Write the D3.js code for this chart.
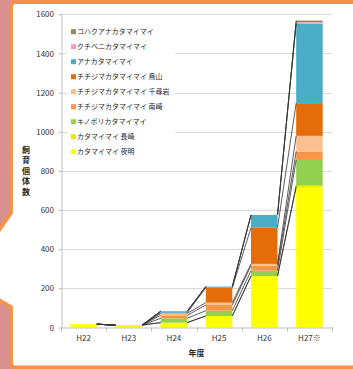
<!DOCTYPE html>
<html>
<head>
<meta charset="utf-8">
<script src="https://cdn.jsdelivr.net/npm/d3@7/dist/d3.min.js"></script>
<style>
  html, body { margin: 0; padding: 0; background: #fff; }
  svg { display: block; }
  text { font-family: "Noto Sans CJK JP", "Liberation Sans", sans-serif; }
</style>
</head>
<body>
<svg id="chart" width="353" height="369"></svg>
<script>
// Fiscal years (x categories)
const years = ["H22", "H23", "H24", "H25", "H26", "H27※"];

// Series, bottom of the stack first
const seriesNames = [
  "カタマイマイ 夜明",
  "カタマイマイ 長崎",
  "キノボリカタマイマイ",
  "チチジマカタマイマイ 南崎",
  "チチジマカタマイマイ 千尋岩",
  "チチジマカタマイマイ 鳥山",
  "アナカタマイマイ",
  "クチベニカタマイマイ",
  "コハクアナカタマイマイ"
];
const seriesColors = [
  "#FFFF00", "#F2E300", "#92D050", "#F79646", "#FAC090",
  "#E46C0A", "#4BACC6", "#FF99CC", "#948A54"
];

// Bred individuals per series, one value per year
const yoake      = [17, 12, 25, 59, 263, 715];
const nagasaki   = [0, 0, 0, 0, 0, 10];
const kinobori   = [0, 0, 22, 27, 27, 131];
const minamizaki = [0, 0, 15, 29, 26, 43];
const chihiroiwa = [0, 0, 10, 12, 9, 80];
const torishima  = [0, 0, 3, 76, 185, 167];
const anaka      = [0, 0, 8, 6, 65, 406];
const kuchibeni  = [0, 0, 0, 0, 0, 8];
const kohaku     = [0, 0, 0, 0, 0, 8];

const yTicks = [0, 200, 400, 600, 800, 1000, 1200, 1400, 1600];
const yTitle = "飼育個体数";
const xTitle = "年度";

const seriesValues = [yoake, nagasaki, kinobori, minamizaki, chihiroiwa,
                      torishima, anaka, kuchibeni, kohaku];

const rows = years.map((yr, i) => {
  const r = { year: yr };
  seriesNames.forEach((n, s) => { r[n] = seriesValues[s][i]; });
  return r;
});

const svg = d3.select("#chart");

// Page backdrop and the bordered callout panel
svg.append("rect").attr("width", 353).attr("height", 369).attr("fill", "#D9918F");
const panel = d3.path();
panel.moveTo(16, 2);
panel.lineTo(358, 2);
panel.lineTo(358, 367.5);
panel.lineTo(16, 367.5);
panel.quadraticCurveTo(11, 367.5, 11, 362.5);
panel.lineTo(11, 307);
panel.lineTo(-8, 296);
panel.lineTo(-8, 240);
panel.lineTo(11, 213);
panel.lineTo(11, 7);
panel.quadraticCurveTo(11, 2, 16, 2);
panel.closePath();
svg.append("path").attr("d", panel.toString())
  .attr("fill", "#fff").attr("stroke", "#F5924A").attr("stroke-width", 3.8);

const plotL = 61, plotR = 332, plotT = 14.3, plotB = 327.5;

const x = d3.scaleBand().domain(years).range([plotL, plotR])
  .paddingInner(0.413).paddingOuter(0.2065);
const y = d3.scaleLinear().domain([0, 1600]).range([plotB, plotT]);

// Gridlines
svg.append("g").selectAll("line").data(yTicks.filter(t => t > 0)).join("line")
  .attr("x1", plotL).attr("x2", plotR)
  .attr("y1", d => Math.round(y(d)) + 0.5).attr("y2", d => Math.round(y(d)) + 0.5)
  .attr("stroke", "#D9D9D9").attr("stroke-width", 1);

// Y axis
const yAxis = svg.append("g").attr("transform", `translate(${plotL + 0.5},0)`)
  .call(d3.axisLeft(y).tickValues(yTicks).tickFormat(d3.format("d"))
    .tickSize(3).tickPadding(4.5).tickSizeOuter(0));
yAxis.select(".domain").attr("stroke", "#BFBFBF");
yAxis.selectAll(".tick line").attr("stroke", "#BFBFBF");
yAxis.selectAll(".tick text").attr("font-size", 8).attr("fill", "#333")
  .attr("font-family", "'Liberation Sans', sans-serif");

// Stacked bars
const stack = d3.stack().keys(seriesNames)(rows);
const bw = x.bandwidth();

svg.append("g").selectAll("g").data(stack).join("g")
  .attr("fill", (d, i) => seriesColors[i])
  .selectAll("rect").data(d => d).join("rect")
  .attr("x", d => x(d.data.year))
  .attr("width", bw)
  .attr("y", d => y(d[1]))
  .attr("height", d => y(d[0]) - y(d[1]));

// Series lines joining each series' top between neighbouring bars
const sl = svg.append("g").attr("stroke", "#333").attr("stroke-width", 0.8).attr("fill", "none");
stack.forEach(layer => {
  for (let i = 0; i < layer.length - 1; i++) {
    sl.append("line")
      .attr("x1", x(years[i]) + bw).attr("y1", y(layer[i][1]))
      .attr("x2", x(years[i + 1])).attr("y2", y(layer[i + 1][1]));
  }
});

// X axis
const xAxis = svg.append("g").attr("transform", `translate(0,${plotB})`)
  .call(d3.axisBottom(x).tickSize(0).tickPadding(8).tickSizeOuter(0));
xAxis.select(".domain").attr("stroke", "#BFBFBF");
xAxis.selectAll(".tick text").attr("font-size", 8).attr("fill", "#333");
const step = x.step();
svg.append("g").selectAll("line").data(d3.range(years.length + 1)).join("line")
  .attr("x1", k => Math.round(plotL + k * step) + 0.5)
  .attr("x2", k => Math.round(plotL + k * step) + 0.5)
  .attr("y1", plotB).attr("y2", plotB + 4)
  .attr("stroke", "#BFBFBF");

// Axis titles
svg.append("text").attr("x", (plotL + plotR) / 2).attr("y", 356)
  .attr("text-anchor", "middle").attr("font-size", 8).attr("font-weight", "bold")
  .attr("fill", "#262626").text(xTitle);
const yt = svg.append("text").attr("font-size", 8).attr("font-weight", "bold")
  .attr("fill", "#262626").attr("text-anchor", "middle");
Array.from(yTitle).forEach((ch, i) => {
  yt.append("tspan").attr("x", 26).attr("y", 153 + i * 10.4).text(ch);
});

// Legend (top of stack listed first)
const legend = svg.append("g");
legend.append("rect").attr("x", 67).attr("y", 22).attr("width", 108).attr("height", 138)
  .attr("fill", "#fff");
const order = d3.range(seriesNames.length).reverse();
order.forEach((s, j) => {
  const cy = 31.7 + j * 15;
  legend.append("rect").attr("x", 71).attr("y", cy - 2.5).attr("width", 5).attr("height", 5)
    .attr("fill", seriesColors[s]);
  legend.append("text").attr("x", 77).attr("y", cy + 2.5)
    .attr("font-size", 7).attr("fill", "#262626").text(seriesNames[s]);
});
</script>
</body>
</html>
